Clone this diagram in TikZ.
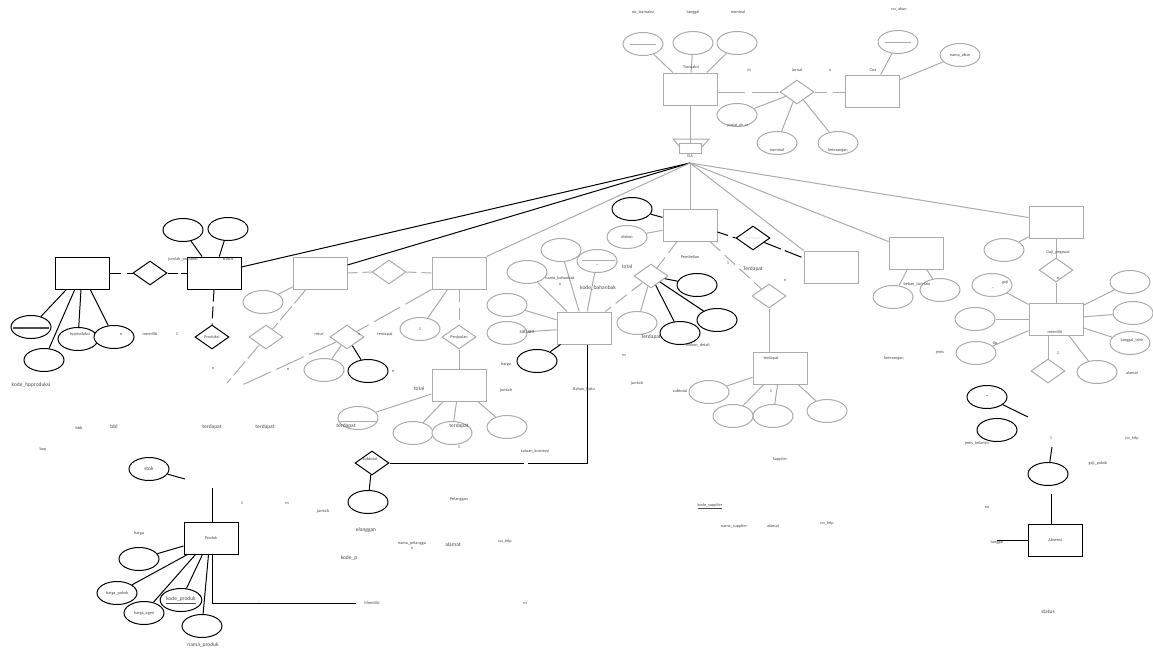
\documentclass[tikz,border=0pt]{standalone}
\usepackage{fontspec}
\setmainfont{Carlito}
\usetikzlibrary{shapes.geometric}

\definecolor{sen}{HTML}{ABABAB}
\definecolor{moji}{HTML}{4A4A4A}

\tikzset{
  ent/.style={draw=sen,line width=1pt,fill=white,minimum width=54pt,minimum height=32pt,inner sep=0pt},
  entk/.style={ent,draw=black},
  attr/.style={ellipse,draw=sen,line width=1pt,fill=white,minimum width=40pt,minimum height=23pt,inner sep=0pt},
  attrk/.style={attr,draw=black},
  rel/.style={diamond,draw=sen,line width=1pt,fill=white,minimum width=34pt,minimum height=24pt,inner sep=0pt},
  relk/.style={rel,draw=black},
  gsen/.style={draw=sen,line width=1pt},
  ksen/.style={draw=black,line width=1pt},
  lbl/.style={text=moji,font=\fontsize{4.3}{5}\selectfont,inner sep=0pt},
  lblm/.style={text=moji,font=\fontsize{5.5}{6}\selectfont,inner sep=0pt},
}

\begin{document}
\begin{tikzpicture}[x=1pt,y=-1pt]
\useasboundingbox (0,0) rectangle (1153,651);

% 取引・仕訳
\node[ent] (transaksi) at (690,89) {};
\node[attr] (notrans) at (643,44) {};
\node[attr] (tgltrans) at (693,43) {};
\node[attr] (nomtrans) at (737,43) {};
\node[rel] (jurnal) at (797,92) {};
\node[ent] (coa) at (872,91) {};
\node[attr] (noakun) at (898,42) {};
\node[attr,lbl] (namaakun) at (960,55) {nama\_akun};
\node[attr] (posisi) at (737,115) {};
\node[attr] (nomjur) at (777,143) {};
\node[attr] (ketjur) at (838,143) {};
\draw[gsen] ([xshift=-13pt]notrans.center) -- ([xshift=13pt]notrans.center);
\draw[gsen] ([xshift=-13pt]noakun.center) -- ([xshift=13pt]noakun.center);
\draw[gsen] (notrans) -- (transaksi);
\draw[gsen] (tgltrans) -- (transaksi);
\draw[gsen] (nomtrans) -- (transaksi);
\draw[gsen,dash pattern=on 27pt off 7pt] (transaksi.east |- jurnal) -- (jurnal.west);
\draw[gsen,dash pattern=on 12pt off 6pt] (jurnal.east) -- (coa.west |- jurnal);
\draw[gsen] (noakun) -- (coa);
\draw[gsen] (namaakun) -- (coa);
\draw[gsen] (posisi) -- (jurnal);
\draw[gsen] (nomjur) -- (jurnal);
\draw[gsen] (ketjur) -- (jurnal);
\node[lbl] at (643,12) {no\_transaksi};
\node[lbl] at (693,12) {tanggal};
\node[lbl] at (738,12) {nominal};
\node[lbl] at (899,9) {no\_akun};
\node[lbl] at (691,67) {Transaksi};
\node[lbl] at (749,70) {m};
\node[lbl] at (797,70) {Jurnal};
\node[lbl] at (830,70) {n};
\node[lbl] at (873,70) {Coa};
\node[lbl] at (738,125) {posisi\_dr\_cr};
\node[lbl] at (777,150) {nominal};
\node[lbl] at (838,150) {keterangan};

% ISA
\node[draw=sen,line width=1pt,minimum width=22pt,minimum height=10pt,inner sep=0pt] (isa) at (690,148) {};
\coordinate (isakiri) at (673,139);
\coordinate (isakanan) at (709,139);
\coordinate (isaujung) at (690,163);
\draw[gsen] (680,147) -- (isakiri) -- (isakanan) -- (702,147);
\draw[gsen] (transaksi.south) -- (isa.north);
\node[lbl] at (690,156) {ISA};

% 生産
\node[entk] (hpp) at (82,273) {};
\node[relk] (memiliki1) at (150,273) {};
\node[entk] (produksi) at (214,273) {};
\node[attrk] (jmlprod) at (183,230) {};
\node[attrk] (statprod) at (228,229) {};
\node[attrk] (kodehpp) at (31,327) {};
\node[attrk] (hppx) at (44,360) {};
\node[attrk] (hpproduksi) at (78,339) {};
\node[attrk] (hppn) at (114,337) {};
\node[relk,lbl] (rproduksi) at (212,337) {Produksi};
\draw[black!70,line width=1.4pt] ([xshift=-18pt,yshift=-1pt]kodehpp.center) -- ([xshift=18pt,yshift=-1pt]kodehpp.center);
\draw[ksen,dash pattern=on 11pt off 6pt] (hpp.east) -- (memiliki1.west);
\draw[ksen,dash pattern=on 10pt off 3pt] (memiliki1.east) -- (produksi.west);
\draw[ksen] (jmlprod) -- (produksi);
\draw[ksen] (statprod) -- (produksi);
\draw[ksen] (kodehpp) -- (hpp);
\draw[ksen] (hppx) -- (hpp);
\draw[ksen] (hpproduksi) -- (hpp);
\draw[ksen] (hppn) -- (hpp);
\draw[ksen,dash pattern=on 12pt off 5pt] (produksi.south) -- (rproduksi.north);
\node[lbl] at (80,334) {hpproduksi};
\node[lbl] at (121,334) {n};
\node[lbl] at (150,334) {memiliki};
\node[lbl] at (177,334) {1};
\node[lbl] at (183,259) {jumlah\_produksi};
\node[lbl] at (228,259) {status};
\node[lbl] at (213,368) {n};
\node[lblm] at (31,385) {kode\_hpproduksi};
\node[lbl] at (79,428) {bbb};
\node[lblm] at (114,427) {bbl};
\node[lblm] at (212,427) {terdapat};
\node[lblm] at (265,427) {terdapat};
\node[lbl] at (43,449) {bop};

% 返品・販売
\node[ent] (retur) at (320,273) {};
\node[rel] (rjual) at (389,272) {};
\node[ent] (penj) at (459,273) {};
\node[attr] (returx) at (263,302) {};
\node[rel] (trd1) at (266,337) {};
\node[rel] (rretur) at (347,337) {};
\node[attr] (returj) at (324,370) {};
\node[attrk] (return) at (368,371) {};
\node[attr,lbl] (penj1) at (420,329) {1};
\node[rel,lbl] (rpenj) at (459,337) {Penjualan};
\node[ent] (detj) at (459,385) {};
\node[attr] (kodedetj) at (358,418) {};
\node[attr] (detj2) at (413,433) {};
\node[attr] (detj3) at (452,433) {};
\node[attr] (detj4) at (507,427) {};
\coordinate (ujung1) at (227,383);
\coordinate (ujung2) at (240,386);
\draw[gsen] ([xshift=-18pt,yshift=-3pt]kodedetj.center) -- ([xshift=19pt,yshift=-3pt]kodedetj.center);
\draw[gsen,dash pattern=on 10pt off 5pt] (retur.east) -- (rjual.west);
\draw[gsen,dash pattern=on 10pt off 5pt] (rjual.east) -- (penj.west);
\draw[gsen] (returx) -- (retur);
\draw[gsen,dash pattern=on 18pt off 4pt] ([xshift=-14pt]retur.south) -- (trd1) -- (ujung1);
\draw[gsen,dash pattern=on 30pt off 6pt] (penj.south west) -- (rretur);
\draw[gsen,dash pattern=on 30pt off 6pt] (rretur) -- (ujung2);
\draw[gsen] (returj) -- (rretur);
\draw[ksen] (return) -- (rretur);
\draw[gsen] (penj1) -- (penj);
\draw[gsen,dash pattern=on 12pt off 6pt] (penj.south) -- (rpenj.north);
\draw[gsen] (rpenj.south) -- (detj.north);
\draw[gsen] (kodedetj) -- (detj);
\draw[gsen] (detj2) -- (detj);
\draw[gsen] (detj3) -- (detj);
\draw[gsen] (detj4) -- (detj);
\node[lbl] at (319,334) {retur};
\node[lbl] at (359,334) {n};
\node[lbl] at (385,334) {terdapat};
\node[lbl] at (393,371) {n};
\node[lbl] at (288,369) {n};
\node[lblm] at (419,389) {total};
\node[lblm] at (346,426) {terdapat};
\node[lblm] at (459,426) {terdapat};
\node[lbl] at (459,447) {1};
\node[lbl] at (535,451) {satuan\_konversi};

% 小計
\node[relk] (subtot) at (372,463) {};
\node[attrk] (subtotx) at (368,502) {};
\node[lbl] at (370,459) {subtotal};

% 原材料
\node[ent] (bahan) at (584,328) {};
\node[attr] (bahan1) at (561,250) {};
\node[attr] (kodebahan) at (597,261) {};
\node[attr] (bahan3) at (527,272) {};
\node[attr] (bahan4) at (507,305) {};
\node[attr] (satuan) at (507,333) {};
\node[attrk] (hargabahan) at (537,361) {};
\coordinate (putus1) at (524,463);
\coordinate (putus2) at (528,463);
\draw[gsen] ([xshift=-15pt,yshift=1pt]kodebahan.center) -- ([xshift=18pt,yshift=1pt]kodebahan.center);
\draw[gsen] (bahan1) -- (bahan);
\draw[gsen] (kodebahan) -- (bahan);
\draw[gsen] (bahan3) -- (bahan);
\draw[gsen] (bahan4) -- (bahan);
\draw[gsen] (satuan) -- (bahan);
\draw[ksen] (hargabahan) -- (bahan);
\draw[ksen] (subtot.east) -- (putus1);
\draw[ksen] (putus2) -| ([xshift=3pt]bahan.south);
\draw[ksen] (subtotx) -- (subtot);
\node[lbl] at (597,266) {\textasciitilde};
\node[lbl] at (560,278) {nama\_bahanbak};
\node[lbl] at (560,284) {u};
\node[lblm] at (598,288) {kode\_bahanbak};
\node[lblm] at (527,332) {satuan};
\node[lbl] at (506,364) {harga};
\node[lbl] at (506,390) {jumlah};
\node[lbl] at (584,389) {Bahan\_baku};
\node[lbl] at (624,355) {m};
\node[lbl] at (637,383) {jumlah};

% 購入
\node[ent] (pemb) at (690,225) {};
\node[attrk] (pemb1) at (632,209) {};
\node[attr,lbl] (diskon) at (627,237) {diskon};
\node[relk,lbl,text=black!12] (trd) at (753,238) {Terdapat};
\node[ent] (boxr) at (831,267) {};
\node[rel] (trd2) at (769,296) {};
\node[ent,lbl] (tbox) at (780,368) {};
\node[attr] (sub) at (709,392) {};
\node[attr] (tb2) at (733,416) {};
\node[attr] (tb3) at (773,416) {};
\node[attr] (tb4) at (827,411) {};
\node[rel] (tot) at (651,276) {};
\node[attrk] (tot1) at (697,285) {};
\node[attrk] (tot2) at (717,320) {};
\node[attrk] (tot3) at (680,333) {};
\node[attr] (tot4) at (637,323) {};
\draw[gsen] (diskon) -- (pemb);
\draw[ksen] (pemb1) -- (pemb);
\draw[ksen,dash pattern=on 11pt off 5pt] ([yshift=-7pt]pemb.east) -- (trd.west);
\draw[ksen,dash pattern=on 18pt off 4pt] (trd) -- ([yshift=9pt]boxr.west);
\draw[gsen,dash pattern=on 14pt off 6pt] ([xshift=20pt]pemb.south) -- (trd2);
\draw[gsen] (trd2.south) -- (trd2.south |- tbox.north);
\draw[gsen] (sub) -- (tbox);
\draw[gsen] (tb2) -- (tbox);
\draw[gsen] (tb3) -- (tbox);
\draw[gsen] (tb4) -- (tbox);
\draw[gsen,dash pattern=on 14pt off 6pt] ([xshift=-13pt]pemb.south) -- (tot);
\draw[gsen,dash pattern=on 14pt off 6pt] (tot) -- (bahan);
\draw[ksen] (tot) -- (tot1);
\draw[ksen] (tot) -- (tot2);
\draw[ksen] (tot) -- (tot3);
\draw[gsen] (tot) -- (tot4);
\node[lbl] at (690,257) {Pembelian};
\node[lbl] at (728,263) {1};
\node[lblm] at (753,269) {Terdapat};
\node[lbl] at (785,280) {n};
\node[lbl] at (771,358) {terdapat};
\node[lbl] at (680,391) {subtotal};
\node[lbl] at (771,391) {1};
\node[lblm] at (627,267) {total};
\node[lblm] at (651,337) {Terdapat};
\node[lbl] at (698,345) {diskon\_detail};

% 経費・給与・社員
\node[ent] (beban) at (916,253) {};
\node[attr] (beban1) at (893,297) {};
\node[attr] (beban2) at (940,290) {};
\node[ent] (gaji) at (1056,222) {};
\node[attr] (gaji1) at (1004,250) {};
\node[rel,lbl] (rgaji) at (1056,270) {};
\node[ent] (peg) at (1056,319) {};
\node[attr] (peg1) at (992,285) {};
\node[attr] (peg2) at (975,319) {};
\node[attr] (peg3) at (976,353) {};
\node[attr] (peg4) at (1130,282) {};
\node[attr] (peg5) at (1133,313) {};
\node[attr] (peg6) at (1130,343) {};
\node[attr] (peg7) at (1097,372) {};
\node[rel] (rpeg) at (1048,371) {};
\node[attrk] (peg8) at (987,397) {};
\node[attrk] (jk) at (997,430) {};
\node[attrk] (gapok) at (1048,474) {};
\node[entk,lbl] (absensi) at (1055,540) {Absensi};
\coordinate (ujung3) at (1028,417);
\coordinate (ujung4) at (1052,447);
\coordinate (ujung5) at (1051,494);
\coordinate (ujung6) at (997,540);
\draw[gsen] (beban1) -- (beban);
\draw[gsen] (beban2) -- (beban);
\draw[gsen] (gaji1) -- (gaji);
\draw[gsen] (gaji.south) -- (rgaji.north);
\draw[gsen] (rgaji.south) -- (peg.north);
\draw[gsen] (peg1) -- (peg);
\draw[gsen] (peg2) -- (peg);
\draw[gsen] (peg3) -- (peg);
\draw[gsen] (peg4) -- (peg);
\draw[gsen] (peg5) -- (peg);
\draw[gsen] (peg6) -- (peg);
\draw[gsen] (peg7) -- (peg);
\draw[gsen] (rpeg.north |- peg.south) -- (rpeg.north);
\draw[ksen] (peg8) -- (ujung3);
\draw[ksen] (ujung4) -- (gapok);
\draw[ksen] (ujung5) -- (ujung5 |- absensi.north);
\draw[ksen] (ujung6) -- (ujung6 -| absensi.west);
\node[lbl] at (917,284) {beban\_lain-lain};
\node[lbl] at (1058,252) {Gaji\_pegawai};
\node[lbl] at (1058,278) {n};
\node[lbl] at (1055,332) {memiliki};
\node[lbl] at (993,288) {\_};
\node[lbl] at (1005,282) {gaji};
\node[lbl] at (995,343) {tlp};
\node[lbl] at (1132,340) {tanggal\_lahir};
\node[lbl] at (1058,353) {1};
\node[lbl] at (1132,373) {alamat};
\node[lbl] at (940,352) {jenis};
\node[lbl] at (894,358) {keterangan};
\node[lblm] at (987,397) {\textbf{--}};
\node[lbl] at (977,443) {jenis\_kelamin};
\node[lbl] at (1051,438) {1};
\node[lbl] at (1132,438) {no\_telp};
\node[lbl] at (1098,463) {gaji\_pokok};
\node[lbl] at (997,542) {tanggal};
\node[lbl] at (987,507) {no};
\node[lblm] at (1048,612) {status};

% 仕入先
\node[lbl] at (780,459) {Supplier};
\node[lbl] at (710,506) {\underline{kode\_supplier}};
\node[lbl] at (734,526) {nama\_supplier};
\node[lbl] at (773,526) {alamat};
\node[lbl] at (827,523) {no\_telp};

% 顧客
\node[lbl] at (459,499) {Pelanggan};
\node[lbl] at (323,511) {jumlah};
\node[lblm] at (366,530) {elanggan};
\node[lbl,align=center] at (412,545) {nama\_pelangga\\n};
\node[lblm] at (453,545) {alamat};
\node[lbl] at (505,541) {no\_telp};
\node[lblm] at (349,558) {kode\_p};

% 製品
\node[attrk,lblm] (stok) at (149,469) {stok};
\coordinate (ujung7) at (185,479);
\coordinate (ujung8) at (212,488);
\coordinate (ujung9) at (356,603);
\node[entk,lbl] (produk) at (211,538) {Produk};
\node[attrk] (hprod) at (139,559) {};
\node[attrk,lbl] (hpokok) at (117,593) {harga\_pokok};
\node[attrk,lbl] (hagen) at (144,613) {harga\_agen};
\node[attrk,lblm] (kprod) at (181,600) {\underline{kode\_produk}};
\node[attrk] (nprod) at (202,626) {};
\draw[ksen] (stok) -- (ujung7);
\draw[ksen] (ujung8) -- (ujung8 |- produk.north);
\draw[ksen] (hprod) -- (produk);
\draw[ksen] (hpokok) -- ([xshift=4pt]produk.south west);
\draw[ksen] (hagen) -- ([xshift=12pt]produk.south west);
\draw[ksen] (kprod) -- ([xshift=19pt]produk.south west);
\draw[ksen] (nprod) -- ([xshift=25pt]produk.south west);
\draw[ksen] ([xshift=1pt]produk.south) |- (ujung9);
\node[lbl] at (242,503) {1};
\node[lbl] at (287,503) {m};
\node[lbl] at (139,533) {harga};
\node[lblm] at (203,645) {nama\_produk};
\node[lbl] at (259,603) {-};
\node[lbl] at (372,603) {Memiliki};
\node[lbl] at (525,603) {m};

% ISAからの線
\draw[ksen] (isaujung) -- ([yshift=6pt]produksi.east);
\draw[ksen] (isaujung) -- ([yshift=8pt]retur.east);
\draw[gsen] (isaujung) -- (penj.north east);
\draw[gsen] (isaujung) -- (pemb.north);
\draw[gsen] (isaujung) -- (boxr.north west);
\draw[gsen] (isaujung) -- ([yshift=-5pt]beban.north west);
\draw[gsen] (isaujung) -- ([yshift=-12pt]gaji.north west);

\end{tikzpicture}
\end{document}
